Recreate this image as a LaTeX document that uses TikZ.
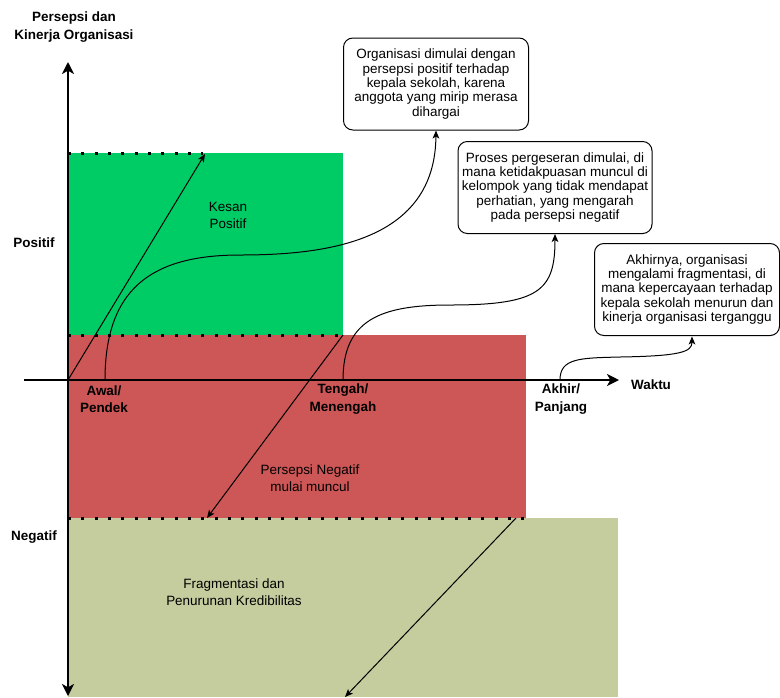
\documentclass[tikz,border=0pt]{standalone}
\usepackage{fontspec}
\setmainfont{Liberation Sans}
\usetikzlibrary{arrows.meta}
\definecolor{cgreen}{HTML}{00CC66}
\definecolor{cred}{HTML}{CD5656}
\definecolor{colive}{HTML}{C5CC9E}
\begin{document}
\begin{tikzpicture}[x=0.75pt,y=-0.75pt,
  txt/.style={font=\fontsize{10.1}{12.75}\selectfont, align=center, inner sep=0pt},
  btxt/.style={font=\fontsize{10.1}{12.9}\selectfont\bfseries, align=center, inner sep=0pt},
  region/.style={anchor=north west, inner sep=0pt, draw=none},
  note/.style={draw=black, line width=0.75pt, fill=white, rounded corners=7pt,
    minimum width=138.75pt, minimum height=69pt, align=center, inner sep=1pt,
    font=\fontsize{10.1}{10.8}\selectfont},
  axis/.style={line width=1.5pt, -{Stealth[length=9pt,width=9pt,inset=2.5pt]}},
  conn/.style={line width=0.75pt, -{Stealth[length=6pt,width=5pt,inset=1.5pt]}},
  dots/.style={line width=2.25pt, dash pattern=on 2.25pt off 7.75pt, line cap=butt}
]
\useasboundingbox (0,0) rectangle (780,697);
% regions
\node[region, fill=colive, minimum width=412.5pt, minimum height=134.25pt] (olive) at (68,518) {};
\node[region, fill=cred, minimum width=343.5pt, minimum height=137.25pt] (red) at (68,335) {};
\node[region, fill=cgreen, minimum width=206.25pt, minimum height=136.5pt] (green) at (68,153) {};
% dotted borders
\coordinate (d1a) at (68,153); \coordinate (d1b) at (203,153);
\coordinate (d2a) at (68,335); \coordinate (d2b) at (343,335);
\coordinate (d3a) at (68,518); \coordinate (d3b) at (526,518);
\draw[dots] (d1a) -- (d1b);
\draw[dots] (d2a) -- (d2b);
\draw[dots] (d3a) -- (d3b);
% axes
\coordinate (ytop) at (68,62); \coordinate (ybot) at (68,696);
\coordinate (xl) at (24,380); \coordinate (xr) at (619,380);
\coordinate (o) at (68,380);
\draw[axis] (o) -- (ytop);
\draw[axis] (o) -- (ybot);
\draw[axis] (xl) -- (xr);
% notes
\node[note] (n1) at (436,84) {Organisasi dimulai dengan\\persepsi positif terhadap\\kepala sekolah, karena\\anggota yang mirip merasa\\dihargai};
\node[note, minimum width=145.5pt] (n2) at (555,187.5) {Proses pergeseran dimulai, di\\mana ketidakpuasan muncul di\\kelompok yang tidak mendapat\\perhatian, yang mengarah\\pada persepsi negatif};
\node[note] (n3) at (687,289.5) {Akhirnya, organisasi\\mengalami fragmentasi, di\\mana kepercayaan terhadap\\kepala sekolah menurun dan\\kinerja organisasi terganggu};
% axis labels
\node[btxt] (ylab) at (74,27) {Persepsi dan\\Kinerja Organisasi};
\node[btxt] (pos) at (34,243) {Positif};
\node[btxt] (neg) at (34,537) {Negatif};
\node[btxt] (t1) at (104,399) {Awal/\\Pendek};
\node[btxt] (t2) at (343,399) {Tengah/\\Menengah};
\node[btxt] (t3) at (561,399) {Akhir/\\Panjang};
\node[btxt] (wk) at (651,385) {Waktu};
% region labels
\node[txt] (l1) at (228,215) {Kesan\\Positif};
\node[txt] (l2) at (310,478) {Persepsi Negatif\\mulai muncul};
\node[txt] (l3) at (234,592) {Fragmentasi dan\\Penurunan Kredibilitas};
% connectors
\coordinate (a1e) at (205,154);
\draw[conn] (o) -- (a1e);
\coordinate (c1s) at (105,380);
\draw[conn] (c1s) .. controls (105,290) and (150,255) .. (240,255)
  .. controls (330,255) and (435,240) .. (n1.south);
\coordinate (a2s) at (343,335); \coordinate (a2e) at (207,518);
\draw[conn] (a2s) -- (a2e);
\coordinate (c2s) at (343,380);
\draw[conn] (c2s) .. controls (343,320) and (380,305) .. (450,305)
  .. controls (540,305) and (555,290) .. (n2.south);
\coordinate (a3s) at (516,518); \coordinate (a3e) at (345,697);
\draw[conn] (a3s) -- (a3e);
\coordinate (c3s) at (560,380);
\draw[conn] (c3s) .. controls (560,358) and (580,358) .. (620,357)
  .. controls (680,356) and (692,352) .. (692,336.5);
\end{tikzpicture}
\end{document}
